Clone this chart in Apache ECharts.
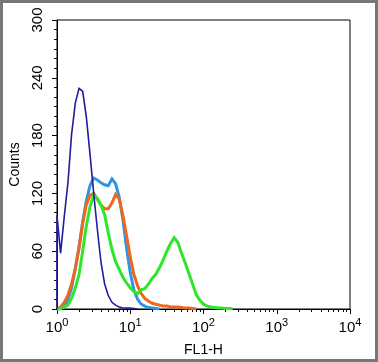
<!DOCTYPE html>
<html>
<head>
<meta charset="utf-8">
<script src="https://cdn.jsdelivr.net/npm/echarts@6/dist/echarts.min.js"></script>
<style>
html, body { margin: 0; padding: 0; background: #fff; }
#chart { width: 378px; height: 362px; }
</style>
</head>
<body>
<div id="chart"></div>
<script>
// FL1-H bin centres (log spaced, 0.05 decade)
var bins = [1.00, 1.12, 1.26, 1.41, 1.58, 1.78, 2.00, 2.24, 2.51, 2.82,
	3.16, 3.55, 3.98, 4.47, 5.01, 5.62, 6.31, 7.08, 7.94, 8.91,
	10.0, 11.2, 12.6, 14.1, 15.8, 17.8, 20.0, 22.4, 25.1, 28.2,
	31.6, 35.5, 39.8, 44.7, 50.1, 56.2, 63.1, 70.8, 79.4, 89.1,
	100, 112, 126, 141, 158, 178, 200, 224, 251];

// counts per bin
var navyCounts = [97, 58, 97, 131, 181, 214, 229, 226, 200, 161, 121, 83, 49, 26, 14, 7, 4, 2, 1, 1, 1, 0.5, 0];
var blueCounts = [0, 0.5, 3, 10, 22, 42, 65, 90, 112, 128, 136, 134, 131, 129, 128, 135, 130, 116, 93, 63,
	38, 20, 10, 5, 3, 1.5, 1, 0.5, 0];
var orangeCounts = [0, 2, 7, 14, 26, 42, 63, 89, 108, 118, 120, 114, 108, 104, 104, 110, 119, 114, 97, 76,
	54, 36, 24, 16, 11, 8, 6, 5, 4, 3, 3, 2, 2, 2, 1.5, 1, 1, 0.5, 0];
var greenCounts = [0, 0.5, 2, 4, 11, 22, 36, 60, 86, 106, 118, 115, 108, 98, 79, 62, 49, 41, 33, 27,
	22, 18, 16, 20, 21, 26, 32, 36, 43, 51, 60, 68, 74, 69, 58, 48, 37, 26, 15, 9,
	5, 3, 2, 1.5, 1, 1, 0.5, 0.5, 0];

var yTicks = [0, 60, 120, 180, 240, 300];
var decades = [1, 10, 100, 1000, 10000];

var font = 'Liberation Sans, Arial, sans-serif';

// minor log ticks 2..9 in each decade
var minorTicks = [];
for (var d = 0; d < decades.length - 1; d++) {
	for (var m = 2; m <= 9; m++) {
		minorTicks.push(decades[d] * m);
	}
}

function histo(name, counts, color, width, lead) {
	var pts = lead ? [[bins[0], 0]] : [];
	for (var i = 0; i < counts.length; i++) {
		pts.push([bins[i], counts[i]]);
	}
	return {
		name: name,
		type: 'line',
		showSymbol: false,
		symbol: 'none',
		data: pts,
		lineStyle: { color: color, width: width, join: 'miter' },
		emphasis: { disabled: true }
	};
}

var chart = echarts.init(document.getElementById('chart'));
var option = {
	animation: false,
	backgroundColor: '#fff',
	textStyle: { fontFamily: font },
	grid: {
		left: 57, right: 28, top: 20, bottom: 51,
		show: true, borderColor: '#000', borderWidth: 1
	},
	graphic: [{
		type: 'rect',
		shape: { x: 1.5, y: 1.5, width: 375, height: 359 },
		style: { fill: 'none', stroke: '#777', lineWidth: 3 },
		silent: true
	}],
	xAxis: [{
		type: 'log',
		logBase: 10,
		min: 1,
		max: 10000,
		position: 'bottom',
		axisLine: { lineStyle: { color: '#000', width: 1 } },
		axisTick: { length: 5, lineStyle: { color: '#000' }, customValues: decades },
		splitLine: { show: false },
		axisLabel: {
			customValues: decades,
			margin: 8,
			color: '#000',
			formatter: function (v) {
				return '{b|10}{s|' + Math.round(Math.log10(v)) + '}';
			},
			rich: {
				b: { fontSize: 15, fontFamily: font, color: '#000' },
				s: { fontSize: 11, fontFamily: font, color: '#000', padding: [0, 0, 10, 0] }
			}
		},
		name: 'FL1-H',
		nameLocation: 'middle',
		nameGap: 34,
		nameTextStyle: { fontSize: 14, color: '#000', fontFamily: font }
	}, {
		type: 'log',
		logBase: 10,
		min: 1,
		max: 10000,
		position: 'bottom',
		axisLine: { show: false },
		axisTick: { length: 3, lineStyle: { color: '#000' }, customValues: minorTicks },
		axisLabel: { show: false },
		splitLine: { show: false }
	}],
	yAxis: {
		type: 'value',
		min: 0,
		max: 300,
		interval: 60,
		axisLine: { show: true, lineStyle: { color: '#000', width: 1 } },
		axisTick: { show: true, length: 5, lineStyle: { color: '#000' } },
		minorTick: { show: true, splitNumber: 6, length: 3, lineStyle: { color: '#000' } },
		splitLine: { show: false },
		axisLabel: {
			rotate: 90,
			margin: 12,
			fontSize: 15,
			color: '#000',
			customValues: yTicks
		},
		name: 'Counts',
		nameLocation: 'middle',
		nameGap: 31,
		nameRotate: 90,
		nameTextStyle: { fontSize: 14, color: '#000', fontFamily: font }
	},
	series: [
		histo('blue', blueCounts, '#2b95ea', 3),
		histo('orange', orangeCounts, '#f0661e', 3),
		histo('green', greenCounts, '#2ee62a', 3),
		histo('navy', navyCounts, '#1f1f9e', 1.6, true)
	]
};
chart.setOption(option);
</script>
</body>
</html>
